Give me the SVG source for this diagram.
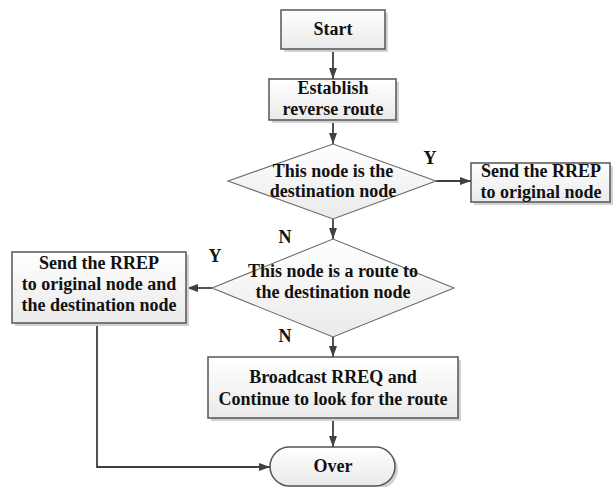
<svg xmlns="http://www.w3.org/2000/svg" width="613" height="487" viewBox="0 0 613 487">
  <defs>
    <linearGradient id="boxFill" x1="0" y1="0" x2="0" y2="1">
      <stop offset="0" stop-color="#ffffff"/>
      <stop offset="1" stop-color="#eaeaea"/>
    </linearGradient>
    <marker id="arrow" viewBox="0 0 11 8" refX="11" refY="4" markerWidth="11" markerHeight="8" markerUnits="userSpaceOnUse" orient="auto">
      <path d="M0,0 L11,4 L0,8 Z" fill="#404040"/>
    </marker>
  </defs>
  <style>
    .box { fill: url(#boxFill); stroke: #555555; stroke-width: 1.5; }
    .shadow { fill: #d2d2d2; stroke: none; }
    .dia { fill: url(#boxFill); stroke: #6a6a6a; stroke-width: 1.1; }
    .lbl { font-family: "Liberation Serif", "Times New Roman", serif; font-weight: bold; font-size: 18px; fill: #111; text-anchor: middle; }
    .edge { fill: none; stroke: #404040; stroke-width: 1.8; marker-end: url(#arrow); }
  </style>
  <rect width="613" height="487" fill="#ffffff"/>

  <!-- flow lines and branch labels -->
  <g id="connectors">
    <line class="edge" x1="333" y1="49" x2="333" y2="79"/>
    <line class="edge" x1="333" y1="120" x2="333" y2="144"/>
    <line class="edge" x1="436" y1="181" x2="471" y2="181"/>
    <line class="edge" x1="333" y1="219" x2="333" y2="239"/>
    <line class="edge" x1="212" y1="288" x2="187" y2="288"/>
    <line class="edge" x1="333" y1="337" x2="333" y2="357"/>
    <line class="edge" x1="333" y1="418" x2="333" y2="447"/>
    <polyline class="edge" points="97,323 97,467 270,467"/>
    <text class="lbl" x="430" y="164">Y</text>
    <text class="lbl" x="285" y="243">N</text>
    <text class="lbl" x="215" y="262">Y</text>
    <text class="lbl" x="285" y="342">N</text>
  </g>

  <g id="start">
    <rect class="shadow" x="284" y="13" width="104" height="39"/>
    <rect class="box" x="281" y="10" width="104" height="39"/>
    <text class="lbl" x="333" y="35">Start</text>
  </g>

  <g id="establish">
    <rect class="shadow" x="272" y="82" width="127" height="41"/>
    <rect class="box" x="269" y="79" width="127" height="41"/>
    <text class="lbl" x="333" y="94">Establish</text>
    <text class="lbl" x="333" y="115">reverse route</text>
  </g>

  <g id="is-destination">
    <polygon class="dia" points="228,181 333,144 436,181 333,219"/>
    <text class="lbl" x="333" y="177">This node is the</text>
    <text class="lbl" x="333" y="197">destination node</text>
  </g>

  <g id="reply-origin">
    <rect class="shadow" x="474" y="166" width="140" height="39"/>
    <rect class="box" x="471" y="163" width="139" height="39"/>
    <text class="lbl" x="541" y="177">Send the RREP</text>
    <text class="lbl" x="541" y="198">to original node</text>
  </g>

  <g id="has-route">
    <polygon class="dia" points="212,288 333,239 454,288 333,337"/>
    <text class="lbl" x="333" y="277">This node is a route to</text>
    <text class="lbl" x="333" y="298">the destination node</text>
  </g>

  <g id="reply-both">
    <rect class="shadow" x="15" y="255" width="174" height="71"/>
    <rect class="box" x="12" y="252" width="174" height="71"/>
    <text class="lbl" x="99" y="269">Send the RREP</text>
    <text class="lbl" x="99" y="290">to original node and</text>
    <text class="lbl" x="99" y="311">the destination node</text>
  </g>

  <g id="broadcast">
    <rect class="shadow" x="211" y="360" width="250" height="61"/>
    <rect class="box" x="208" y="357" width="250" height="61"/>
    <text class="lbl" x="333" y="383">Broadcast RREQ and</text>
    <text class="lbl" x="333" y="405">Continue to look for the route</text>
  </g>

  <g id="over">
    <rect class="shadow" x="273" y="450" width="125" height="39" rx="19.5"/>
    <rect class="box" x="270" y="447" width="125" height="39" rx="19.5"/>
    <text class="lbl" x="333" y="472">Over</text>
  </g>
</svg>
